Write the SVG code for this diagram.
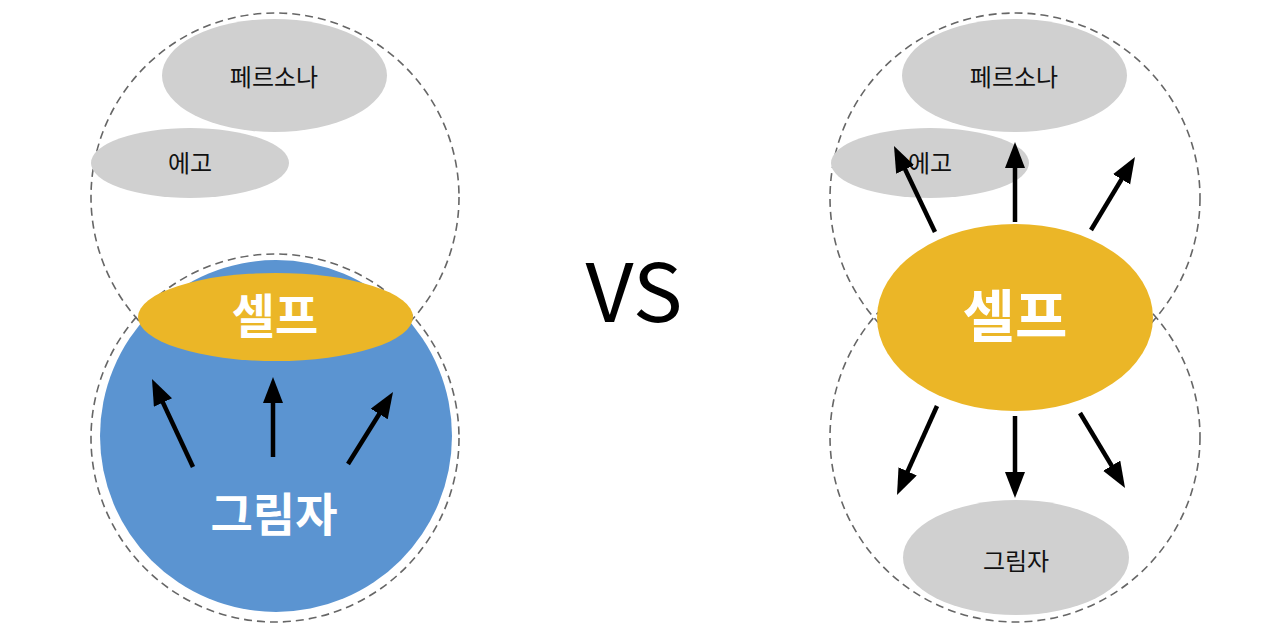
<svg xmlns="http://www.w3.org/2000/svg" width="1280" height="632" viewBox="0 0 1280 632">
<style>
.dash{fill:none;stroke:#666;stroke-width:1.6;stroke-dasharray:8 5}
.grey{fill:#d0d0d0}
.yellow{fill:#ebb627}
.blue{fill:#5b94d1}
.lbl{font-family:"Noto Sans CJK KR","Noto Sans",sans-serif;font-size:24px;fill:#111;text-anchor:middle}
.big{font-family:"Noto Sans CJK KR","Noto Sans",sans-serif;font-weight:bold;fill:#fff;text-anchor:middle}
.arr{stroke:#000;stroke-width:4.5;fill:none;marker-end:url(#ah)}
</style>
<defs>
<marker id="ah" markerUnits="userSpaceOnUse" markerWidth="28" markerHeight="22" refX="16" refY="10" orient="auto">
<path d="M0,0 L26,10 L0,20 z" fill="#000"/>
</marker>
</defs>
<rect width="1280" height="632" fill="#fff"/>

<g id="left">
<g id="left-upper-region"><circle class="dash" cx="275" cy="197" r="184"/></g>
<g id="left-persona"><ellipse class="grey" cx="274.5" cy="75.5" rx="112.5" ry="56.5"/><text class="lbl" x="274" y="86">페르소나</text></g>
<g id="left-ego"><ellipse class="grey" cx="190" cy="163" rx="99" ry="35"/><text class="lbl" x="190" y="172">에고</text></g>
<g id="left-lower-region"><circle class="dash" cx="275" cy="438" r="184"/></g>
<g id="left-shadow"><circle class="blue" cx="276" cy="436" r="176"/><text class="big" x="274" y="531" font-size="46">그림자</text></g>
<g id="left-self"><ellipse class="yellow" cx="275.5" cy="317" rx="137.5" ry="44"/><text class="big" x="275" y="333" font-size="47">셀프</text></g>
</g>

<g id="vs"><text x="634" y="322" font-family="'Noto Sans CJK KR','Noto Sans',sans-serif" font-size="80" fill="#000" text-anchor="middle" textLength="97" lengthAdjust="spacingAndGlyphs">VS</text></g>

<g id="right">
<g id="right-upper-region"><circle class="dash" cx="1015" cy="198" r="185"/></g>
<g id="right-lower-region"><circle class="dash" cx="1015" cy="437" r="185"/></g>
<g id="right-persona"><ellipse class="grey" cx="1014.5" cy="75.5" rx="112.5" ry="56.5"/><text class="lbl" x="1014" y="86">페르소나</text></g>
<g id="right-ego"><ellipse class="grey" cx="930" cy="163" rx="99" ry="35"/><text class="lbl" x="930" y="172">에고</text></g>
<g id="right-shadow"><ellipse class="grey" cx="1016" cy="557.5" rx="113" ry="57.5"/><text class="lbl" x="1016" y="570">그림자</text></g>
<g id="right-self"><ellipse class="yellow" cx="1015" cy="317.5" rx="138" ry="93.5"/><text class="big" x="1015" y="337" font-size="57">셀프</text></g>
</g>

<g id="connectors">
<line class="arr" x1="193" y1="467" x2="156.2" y2="388.1"/>
<line class="arr" x1="273" y1="457" x2="273" y2="387"/>
<line class="arr" x1="348" y1="464" x2="387.7" y2="400.5"/>
<line class="arr" x1="935" y1="232" x2="898.3" y2="155"/>
<line class="arr" x1="1015" y1="222" x2="1015" y2="152"/>
<line class="arr" x1="1091" y1="230" x2="1129.8" y2="165.6"/>
<line class="arr" x1="937" y1="406" x2="901.1" y2="485.9"/>
<line class="arr" x1="1015" y1="416" x2="1015" y2="488"/>
<line class="arr" x1="1080" y1="413" x2="1119.9" y2="479.4"/>
</g>
</svg>
